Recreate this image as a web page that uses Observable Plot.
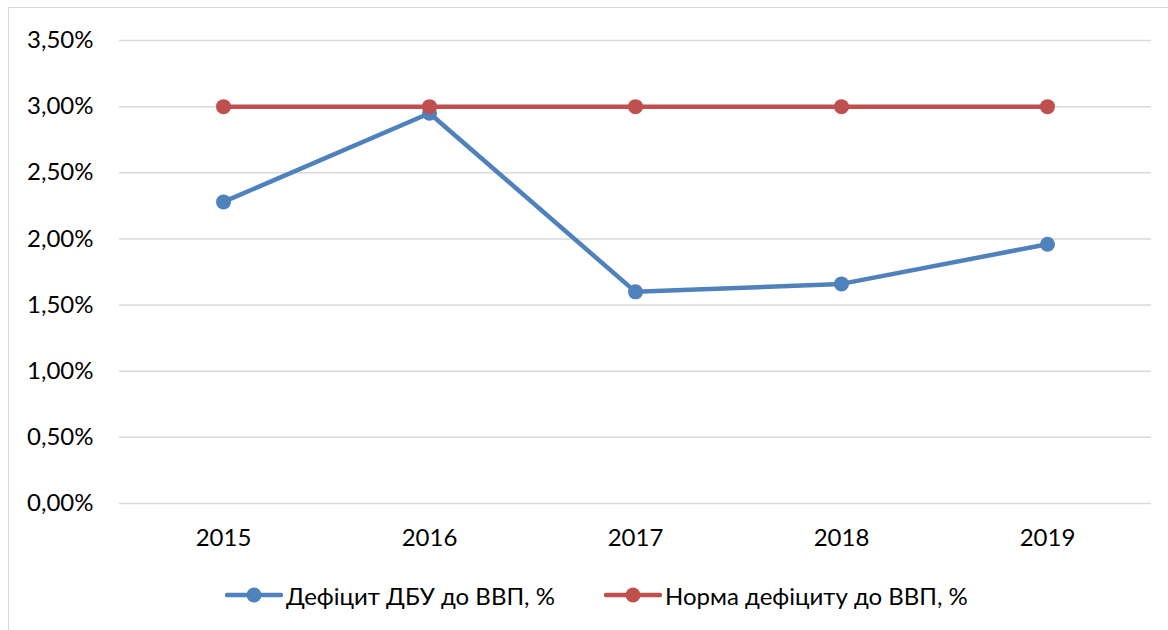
<!DOCTYPE html>
<html>
<head>
<meta charset="utf-8">
<script src="https://cdn.jsdelivr.net/npm/d3@7"></script>
<script src="https://cdn.jsdelivr.net/npm/@observablehq/plot@0.6"></script>
<style>
  html, body { margin: 0; padding: 0; background: #fff; }
  #wrap { position: relative; width: 1168px; height: 630px; overflow: hidden; font-family: Lato, "Noto Sans", sans-serif; }
  #frame { position: absolute; left: 8px; top: 7px; width: 1300px; height: 800px; border: 1.5px solid #d9d9d9; }
  #chart { position: absolute; left: 0; top: 0; }
  #legend { position: absolute; left: 0; top: 575px; width: 1168px; height: 40px; }
  .item { position: absolute; top: 0; height: 40px; display: flex; align-items: center; font-size: 24px; color: #000; white-space: nowrap; }
  .item svg { margin-right: 3px; }
</style>
</head>
<body>
<div id="wrap">
  <div id="frame"></div>
  <div id="chart"></div>
  <div id="legend"></div>
</div>
<script>
const years = ["2015", "2016", "2017", "2018", "2019"];
const deficit = [2.28, 2.95, 1.60, 1.66, 1.96];
const norm = [3.00, 3.00, 3.00, 3.00, 3.00];
const yTicks = [0, 0.5, 1.0, 1.5, 2.0, 2.5, 3.0, 3.5];
const seriesNames = ["Дефіцит ДБУ до ВВП, %", "Норма дефіциту до ВВП, %"];
const colors = ["#4f81bd", "#c0504d"];

const rows = [];
years.forEach((y, i) => {
  rows.push({year: y, value: deficit[i], series: seriesNames[0]});
});
years.forEach((y, i) => {
  rows.push({year: y, value: norm[i], series: seriesNames[1]});
});
const fmt = d => d.toFixed(2).replace(".", ",") + "%";

const plot = Plot.plot({
  width: 1168,
  height: 570,
  marginLeft: 119,
  marginRight: 17,
  marginTop: 40,
  marginBottom: 67,
  style: {fontFamily: "Lato, 'Noto Sans', sans-serif", fontSize: "24px", color: "#000", background: "transparent"},
  x: {type: "point", domain: years, padding: 0.5, label: null, tickSize: 0, tickPadding: 25},
  y: {domain: [0, 3.5], ticks: yTicks, tickFormat: fmt, label: null, tickSize: 0, tickPadding: 26},
  color: {domain: seriesNames, range: colors},
  marks: [
    Plot.ruleY(yTicks, {stroke: "#d9d9d9", strokeWidth: 1.5}),
    Plot.line(rows, {x: "year", y: "value", stroke: "series", z: "series", strokeWidth: 4.5, curve: "linear"}),
    Plot.dot(rows, {x: "year", y: "value", fill: "series", r: 7.5, stroke: "none"})
  ]
});
document.getElementById("chart").appendChild(plot);

const legend = document.getElementById("legend");
const lefts = [225, 604];
seriesNames.forEach((name, i) => {
  const item = document.createElement("div");
  item.className = "item";
  item.style.left = lefts[i] + "px";
  item.innerHTML = `<svg width="58" height="20"><line x1="2" y1="10" x2="56" y2="10" stroke="${colors[i]}" stroke-width="4.5" stroke-linecap="round"/><circle cx="29" cy="10" r="7.5" fill="${colors[i]}"/></svg><span>${name}</span>`;
  legend.appendChild(item);
});
</script>
</body>
</html>
